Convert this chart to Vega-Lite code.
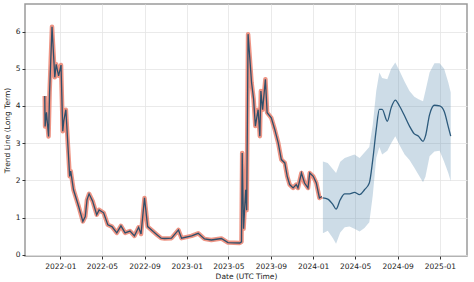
{
  "$schema": "https://vega.github.io/schema/vega-lite/v6.json",
  "autosize": {"type": "fit", "contains": "padding"},
  "width": 474,
  "height": 282,
  "padding": {"left": 3, "top": 4, "right": 7, "bottom": 2},
  "config": {
    "font": "DejaVu Sans",
    "view": {"stroke": "#9a9a9a", "strokeWidth": 1.5},
    "axis": {
      "labelFont": "DejaVu Sans",
      "titleFont": "DejaVu Sans",
      "labelFontSize": 7.5,
      "titleFontSize": 7.5,
      "titleFontWeight": "normal",
      "labelColor": "#222",
      "titleColor": "#222",
      "gridColor": "#e5e5e5",
      "gridWidth": 0.8,
      "domain": false,
      "tickColor": "#333",
      "tickSize": 3
    }
  },
  "data": {"values": [
    {"date": "2021-11-17", "series": "actual", "value": 4.27},
    {"date": "2021-11-18", "series": "actual", "value": 3.45},
    {"date": "2021-11-22", "series": "actual", "value": 3.83},
    {"date": "2021-11-28", "series": "actual", "value": 3.18},
    {"date": "2021-12-01", "series": "actual", "value": 4.37},
    {"date": "2021-12-08", "series": "actual", "value": 6.13},
    {"date": "2021-12-16", "series": "actual", "value": 4.77},
    {"date": "2021-12-20", "series": "actual", "value": 5.12},
    {"date": "2021-12-27", "series": "actual", "value": 4.81},
    {"date": "2022-01-03", "series": "actual", "value": 5.1},
    {"date": "2022-01-08", "series": "actual", "value": 3.32},
    {"date": "2022-01-11", "series": "actual", "value": 3.6},
    {"date": "2022-01-17", "series": "actual", "value": 3.9},
    {"date": "2022-01-28", "series": "actual", "value": 2.11},
    {"date": "2022-01-31", "series": "actual", "value": 2.25},
    {"date": "2022-02-08", "series": "actual", "value": 1.75},
    {"date": "2022-02-23", "series": "actual", "value": 1.3},
    {"date": "2022-03-07", "series": "actual", "value": 0.9},
    {"date": "2022-03-14", "series": "actual", "value": 1.03},
    {"date": "2022-03-19", "series": "actual", "value": 1.48},
    {"date": "2022-03-25", "series": "actual", "value": 1.64},
    {"date": "2022-04-04", "series": "actual", "value": 1.45},
    {"date": "2022-04-16", "series": "actual", "value": 1.08},
    {"date": "2022-04-23", "series": "actual", "value": 1.21},
    {"date": "2022-05-06", "series": "actual", "value": 1.13},
    {"date": "2022-05-18", "series": "actual", "value": 0.81},
    {"date": "2022-05-30", "series": "actual", "value": 0.76},
    {"date": "2022-06-13", "series": "actual", "value": 0.59},
    {"date": "2022-06-25", "series": "actual", "value": 0.78},
    {"date": "2022-07-07", "series": "actual", "value": 0.59},
    {"date": "2022-07-21", "series": "actual", "value": 0.64},
    {"date": "2022-08-03", "series": "actual", "value": 0.51},
    {"date": "2022-08-15", "series": "actual", "value": 0.74},
    {"date": "2022-08-22", "series": "actual", "value": 0.56},
    {"date": "2022-09-01", "series": "actual", "value": 1.53},
    {"date": "2022-09-10", "series": "actual", "value": 0.76},
    {"date": "2022-09-27", "series": "actual", "value": 0.62},
    {"date": "2022-10-06", "series": "actual", "value": 0.55},
    {"date": "2022-10-19", "series": "actual", "value": 0.45},
    {"date": "2022-10-29", "series": "actual", "value": 0.44},
    {"date": "2022-11-18", "series": "actual", "value": 0.45},
    {"date": "2022-12-08", "series": "actual", "value": 0.67},
    {"date": "2022-12-17", "series": "actual", "value": 0.45},
    {"date": "2023-01-15", "series": "actual", "value": 0.51},
    {"date": "2023-02-03", "series": "actual", "value": 0.58},
    {"date": "2023-02-21", "series": "actual", "value": 0.43},
    {"date": "2023-03-13", "series": "actual", "value": 0.4},
    {"date": "2023-04-11", "series": "actual", "value": 0.44},
    {"date": "2023-04-30", "series": "actual", "value": 0.33},
    {"date": "2023-06-03", "series": "actual", "value": 0.32},
    {"date": "2023-06-08", "series": "actual", "value": 0.35},
    {"date": "2023-06-10", "series": "actual", "value": 2.74},
    {"date": "2023-06-14", "series": "actual", "value": 0.7},
    {"date": "2023-06-20", "series": "actual", "value": 1.75},
    {"date": "2023-06-23", "series": "actual", "value": 1.2},
    {"date": "2023-06-27", "series": "actual", "value": 5.93},
    {"date": "2023-07-07", "series": "actual", "value": 4.63},
    {"date": "2023-07-13", "series": "actual", "value": 4.18},
    {"date": "2023-07-18", "series": "actual", "value": 3.46},
    {"date": "2023-07-26", "series": "actual", "value": 3.9},
    {"date": "2023-07-31", "series": "actual", "value": 3.19},
    {"date": "2023-08-03", "series": "actual", "value": 4.4},
    {"date": "2023-08-08", "series": "actual", "value": 3.9},
    {"date": "2023-08-16", "series": "actual", "value": 4.72},
    {"date": "2023-08-21", "series": "actual", "value": 3.82},
    {"date": "2023-09-02", "series": "actual", "value": 3.68},
    {"date": "2023-09-12", "series": "actual", "value": 3.37},
    {"date": "2023-09-22", "series": "actual", "value": 3.01},
    {"date": "2023-10-01", "series": "actual", "value": 2.56},
    {"date": "2023-10-11", "series": "actual", "value": 2.47},
    {"date": "2023-10-18", "series": "actual", "value": 2.11},
    {"date": "2023-10-25", "series": "actual", "value": 1.89},
    {"date": "2023-11-04", "series": "actual", "value": 1.8},
    {"date": "2023-11-13", "series": "actual", "value": 1.89},
    {"date": "2023-11-18", "series": "actual", "value": 1.8},
    {"date": "2023-11-28", "series": "actual", "value": 2.2},
    {"date": "2023-12-07", "series": "actual", "value": 1.93},
    {"date": "2023-12-17", "series": "actual", "value": 1.8},
    {"date": "2023-12-22", "series": "actual", "value": 2.2},
    {"date": "2024-01-01", "series": "actual", "value": 2.11},
    {"date": "2024-01-10", "series": "actual", "value": 1.93},
    {"date": "2024-01-19", "series": "actual", "value": 1.53},
    {"date": "2024-01-26", "series": "actual", "value": 1.57},
    {"date": "2024-01-29", "series": "forecast", "value": 1.53, "lower": 0.58, "upper": 2.51},
    {"date": "2024-02-12", "series": "forecast", "value": 1.5, "lower": 0.65, "upper": 2.47},
    {"date": "2024-02-27", "series": "forecast", "value": 1.35, "lower": 0.45, "upper": 2.3},
    {"date": "2024-03-07", "series": "forecast", "value": 1.23, "lower": 0.3, "upper": 2.2},
    {"date": "2024-03-19", "series": "forecast", "value": 1.48, "lower": 0.6, "upper": 2.5},
    {"date": "2024-04-01", "series": "forecast", "value": 1.64, "lower": 0.74, "upper": 2.6},
    {"date": "2024-04-15", "series": "forecast", "value": 1.64, "lower": 0.76, "upper": 2.65},
    {"date": "2024-04-29", "series": "forecast", "value": 1.68, "lower": 0.7, "upper": 2.7},
    {"date": "2024-05-14", "series": "forecast", "value": 1.62, "lower": 0.63, "upper": 2.6},
    {"date": "2024-05-28", "series": "forecast", "value": 1.75, "lower": 0.72, "upper": 2.75},
    {"date": "2024-06-11", "series": "forecast", "value": 1.93, "lower": 0.88, "upper": 2.9},
    {"date": "2024-06-21", "series": "forecast", "value": 2.56, "lower": 1.6, "upper": 3.5},
    {"date": "2024-07-01", "series": "forecast", "value": 3.37, "lower": 2.6, "upper": 4.4},
    {"date": "2024-07-10", "series": "forecast", "value": 3.91, "lower": 2.9, "upper": 4.9},
    {"date": "2024-07-18", "series": "forecast", "value": 3.91, "lower": 2.7, "upper": 4.75},
    {"date": "2024-08-02", "series": "forecast", "value": 3.59, "lower": 2.8, "upper": 4.72},
    {"date": "2024-08-13", "series": "forecast", "value": 3.95, "lower": 3.0, "upper": 5.0},
    {"date": "2024-08-25", "series": "forecast", "value": 4.16, "lower": 3.19, "upper": 5.17},
    {"date": "2024-09-06", "series": "forecast", "value": 4.0, "lower": 2.95, "upper": 4.95},
    {"date": "2024-09-21", "series": "forecast", "value": 3.73, "lower": 2.7, "upper": 4.65},
    {"date": "2024-10-05", "series": "forecast", "value": 3.46, "lower": 2.55, "upper": 4.4},
    {"date": "2024-10-19", "series": "forecast", "value": 3.25, "lower": 2.34, "upper": 4.25},
    {"date": "2024-10-31", "series": "forecast", "value": 3.19, "lower": 2.15, "upper": 4.18},
    {"date": "2024-11-13", "series": "forecast", "value": 3.05, "lower": 1.95, "upper": 4.13},
    {"date": "2024-11-20", "series": "forecast", "value": 3.19, "lower": 2.1, "upper": 4.4},
    {"date": "2024-12-02", "series": "forecast", "value": 3.77, "lower": 2.65, "upper": 4.9},
    {"date": "2024-12-16", "series": "forecast", "value": 4.02, "lower": 2.78, "upper": 5.15},
    {"date": "2024-12-31", "series": "forecast", "value": 4.0, "lower": 2.8, "upper": 5.15},
    {"date": "2025-01-13", "series": "forecast", "value": 3.86, "lower": 2.5, "upper": 5.0},
    {"date": "2025-01-25", "series": "forecast", "value": 3.44, "lower": 2.2, "upper": 4.63},
    {"date": "2025-02-01", "series": "forecast", "value": 3.19, "lower": 1.98, "upper": 4.36}
  ]},
  "encoding": {
    "x": {
      "field": "date", "type": "temporal",
      "scale": {"type": "utc", "domain": [{"year": 2021, "month": 9, "date": 21, "utc": true}, {"year": 2025, "month": 3, "date": 20, "utc": true}]},
      "axis": {
        "title": "Date (UTC Time)",
        "format": "%Y-%m",
        "values": [
          {"year": 2022, "month": 1, "date": 1, "utc": true},
          {"year": 2022, "month": 5, "date": 1, "utc": true},
          {"year": 2022, "month": 9, "date": 1, "utc": true},
          {"year": 2023, "month": 1, "date": 1, "utc": true},
          {"year": 2023, "month": 5, "date": 1, "utc": true},
          {"year": 2023, "month": 9, "date": 1, "utc": true},
          {"year": 2024, "month": 1, "date": 1, "utc": true},
          {"year": 2024, "month": 5, "date": 1, "utc": true},
          {"year": 2024, "month": 9, "date": 1, "utc": true},
          {"year": 2025, "month": 1, "date": 1, "utc": true}
        ],
        "labelPadding": 3,
        "titlePadding": 3
      }
    }
  },
  "layer": [
    {
      "transform": [{"filter": "datum.series === 'forecast'"}],
      "mark": {"type": "area", "color": "#5a8bb0", "opacity": 0.3},
      "encoding": {
        "y": {"field": "lower", "type": "quantitative"},
        "y2": {"field": "upper"}
      }
    },
    {
      "transform": [{"filter": "datum.series === 'actual'"}],
      "mark": {"type": "line", "color": "#ea7a66", "strokeWidth": 4.5, "opacity": 0.8, "strokeJoin": "round"},
      "encoding": {
        "y": {"field": "value", "type": "quantitative",
          "scale": {"domain": [-0.03, 6.74], "nice": false, "zero": false},
          "axis": {"title": "Trend Line (Long Term)", "values": [0, 1, 2, 3, 4, 5, 6], "labelPadding": 2, "titlePadding": 4}
        }
      }
    },
    {
      "transform": [{"filter": "datum.series === 'actual'"}],
      "mark": {"type": "line", "color": "#2f4f6a", "strokeWidth": 1.3},
      "encoding": {"y": {"field": "value", "type": "quantitative"}}
    },
    {
      "transform": [{"filter": "datum.series === 'forecast'"}],
      "mark": {"type": "line", "color": "#2c5a7c", "strokeWidth": 1.3, "interpolate": "monotone"},
      "encoding": {"y": {"field": "value", "type": "quantitative"}}
    }
  ]
}
